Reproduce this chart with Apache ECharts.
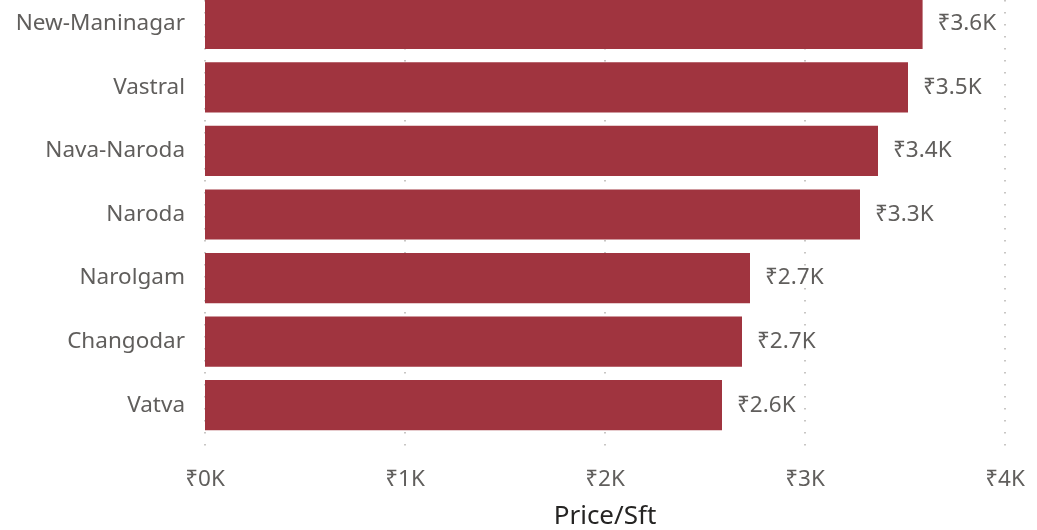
<!DOCTYPE html>
<html>
<head>
<meta charset="utf-8">
<title>Price/Sft</title>
<script src="https://cdn.jsdelivr.net/npm/echarts@6/dist/echarts.min.js"></script>
<style>
  html, body { margin: 0; padding: 0; background: #fff; }
  #main { width: 1037px; height: 530px; }
</style>
</head>
<body>
<div id="main"></div>
<script>
// 数据
var areas = ['New-Maninagar', 'Vastral', 'Nava-Naroda', 'Naroda', 'Narolgam', 'Changodar', 'Vatva'];
var pricePerSft = [3588, 3515, 3365, 3275, 2725, 2685, 2585];
var xTicks = [0, 1000, 2000, 3000, 4000];

var font = "'Segoe UI', 'Noto Sans', 'DejaVu Sans', sans-serif";
var grey = '#605E5C';

function kLabel(v, digits) {
  return '₹' + (v / 1000).toFixed(digits) + 'K';
}

var myChart = echarts.init(document.getElementById('main'));
var option = {
  animation: false,
  textStyle: { fontFamily: font },
  grid: [
    // 柱子 (顶部超出画布一点)
    { left: 205, width: 800, top: -8, height: 445, outerBoundsMode: 'none' },
    // 网格线 + x轴文字
    { left: 205, width: 800, top: 0, height: 455, outerBoundsMode: 'none' }
  ],
  xAxis: [
    {
      gridIndex: 0,
      type: 'value',
      min: xTicks[0],
      max: xTicks[xTicks.length - 1],
      show: false
    },
    {
      gridIndex: 1,
      type: 'value',
      min: xTicks[0],
      max: xTicks[xTicks.length - 1],
      interval: 1000,
      axisLine: { show: false },
      axisTick: { show: false },
      axisLabel: {
        color: grey,
        fontSize: 22.5,
        margin: 13,
        formatter: function (v) { return kLabel(v, 0); }
      },
      splitLine: {
        show: true,
        lineStyle: { color: '#C8C6C4', type: [1.5, 10.5], width: 2 }
      },
      name: 'Price/Sft',
      nameLocation: 'middle',
      nameGap: 49,
      nameTextStyle: {
        color: '#252423',
        fontSize: 26,
        fontFamily: "'DIN', 'Noto Sans', 'DejaVu Sans', sans-serif"
      }
    }
  ],
  yAxis: [
    {
      gridIndex: 0,
      type: 'category',
      inverse: true,
      data: areas,
      axisLine: { show: false },
      axisTick: { show: false },
      axisLabel: { color: grey, fontSize: 22.5, margin: 20 }
    },
    {
      gridIndex: 1,
      type: 'value',
      show: false
    }
  ],
  series: [
    {
      name: 'Price/Sft',
      type: 'bar',
      xAxisIndex: 0,
      yAxisIndex: 0,
      data: pricePerSft,
      barCategoryGap: '21%',
      itemStyle: { color: '#A0343F' },
      label: {
        show: true,
        position: 'right',
        distance: 15,
        color: grey,
        fontSize: 22.5,
        formatter: function (p) { return kLabel(p.value, 1); }
      }
    }
  ]
};
myChart.setOption(option);
</script>
</body>
</html>
